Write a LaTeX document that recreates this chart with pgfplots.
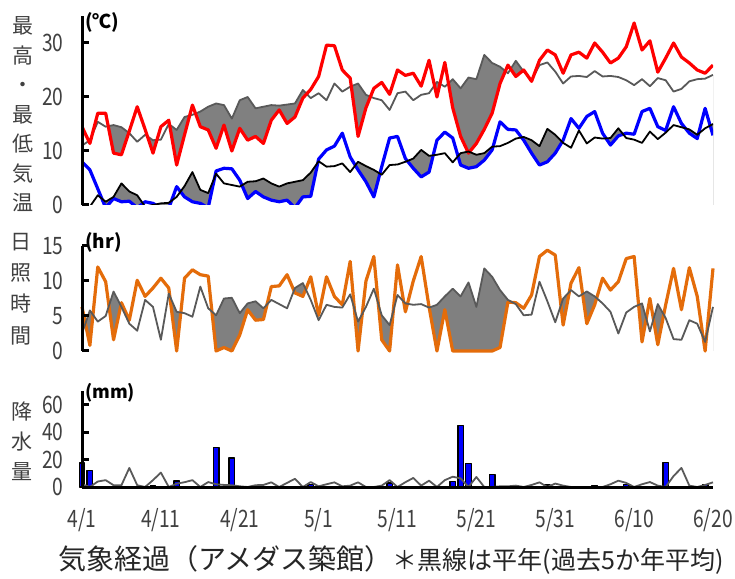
\documentclass[border=0pt]{standalone}
\usepackage{fontspec}
\setmainfont{Noto Sans CJK JP}
\newfontfamily\narrowfont[FakeStretch=0.8]{Noto Sans CJK JP}
\usepackage{pgfplots}
\pgfplotsset{compat=1.18}
\usepackage{pgfplotstable}

\definecolor{cRed}{RGB}{255,0,0}
\definecolor{cBlue}{RGB}{0,0,255}
\definecolor{cOrange}{RGB}{228,108,10}
\definecolor{cNorm}{RGB}{89,89,89}
\definecolor{cFill}{RGB}{128,128,128}
\definecolor{cText}{RGB}{64,64,64}

\pgfplotstableread{
d tmax nmax tmin nmin
0 14.5 11.0 8.0 0.3
1 11.4 12.0 6.5 -0.3
2 17.0 15.4 3.0 1.8
3 17.0 14.5 -0.5 0.6
4 9.6 14.8 1.2 1.5
5 9.3 14.4 0.6 4.0
6 13.7 13.3 0.7 2.5
7 18.2 11.7 -0.5 1.8
8 14.0 13.0 0.6 -0.3
9 9.6 12.0 0.3 0.0
10 14.5 12.1 -0.5 0.3
11 15.7 15.0 -0.6 0.4
12 7.4 13.9 3.4 1.5
13 13.0 16.3 1.5 3.5
14 18.5 16.7 0.6 6.1
15 14.5 17.3 0.3 2.8
16 13.9 18.2 -0.5 2.2
17 10.5 18.8 6.3 5.8
18 14.8 18.5 6.8 4.0
19 10.0 16.0 6.7 3.7
20 14.2 19.4 4.6 3.4
21 12.0 20.0 1.2 4.3
22 12.7 17.9 2.5 4.4
23 11.4 18.2 1.5 4.9
24 15.7 18.5 0.9 4.0
25 17.6 18.4 0.6 3.4
26 15.1 18.6 0.9 4.0
27 16.3 18.8 -0.5 4.3
28 19.8 21.3 1.5 4.6
29 21.4 19.8 1.6 6.0
30 23.8 20.7 8.5 8.1
31 29.6 19.4 10.2 7.1
32 29.5 22.5 10.9 7.2
33 25.0 21.0 13.3 7.7
34 23.5 21.9 8.9 6.1
35 12.7 22.5 6.5 8.0
36 18.0 20.4 4.3 7.2
37 21.6 19.8 1.5 6.5
38 22.7 19.4 7.1 5.6
39 20.5 17.6 12.4 7.4
40 25.0 20.7 12.7 7.5
41 24.0 21.0 8.6 8.0
42 24.4 19.4 6.8 8.6
43 22.0 20.4 5.2 10.2
44 26.8 20.7 6.1 9.1
45 20.0 22.8 12.0 9.3
46 26.4 21.9 13.5 9.6
47 18.0 23.3 12.4 7.9
48 12.7 21.6 7.4 9.6
49 9.6 23.6 6.8 9.9
50 11.4 23.3 7.1 9.3
51 14.0 27.8 8.3 9.6
52 17.0 26.3 10.2 10.8
53 22.5 25.6 15.4 10.9
54 25.9 24.4 14.0 11.5
55 23.8 26.7 13.9 12.3
56 25.0 24.7 12.0 12.6
57 22.9 23.1 9.6 12.0
58 26.8 25.9 7.4 10.9
59 28.7 26.4 8.0 14.1
60 27.8 24.7 9.6 13.0
61 24.4 22.5 12.0 11.5
62 27.8 23.8 16.0 10.6
63 28.3 23.9 14.2 13.8
64 27.2 23.7 16.4 11.4
65 30.0 24.8 17.3 12.5
66 28.3 23.8 13.3 12.3
67 26.3 23.9 11.1 12.4
68 27.2 23.7 12.8 14.2
69 29.3 23.1 13.3 12.4
70 33.7 22.2 13.1 12.1
71 28.7 23.3 17.3 11.5
72 30.4 22.0 17.9 13.6
73 24.6 23.5 14.5 12.2
74 27.2 23.1 13.8 13.4
75 30.0 21.0 18.2 14.8
76 27.4 21.5 15.1 14.4
77 26.3 22.9 13.3 14.0
78 25.0 23.3 12.3 13.0
79 24.4 23.4 17.9 14.2
80 25.9 24.1 12.9 15.0
}\temps

\pgfplotstableread{
d sun nsun
0 6.3 2.5
1 0.8 5.8
2 12.0 4.2
3 9.9 5.0
4 1.6 8.5
5 6.9 6.3
6 4.4 3.9
7 10.1 2.9
8 7.8 7.3
9 9.0 6.3
10 10.4 1.6
11 9.0 8.2
12 0.0 5.6
13 10.4 5.4
14 11.6 4.9
15 10.9 9.2
16 10.7 6.1
17 0.0 5.1
18 0.5 7.5
19 0.0 7.6
20 2.3 5.4
21 5.9 6.8
22 4.4 7.1
23 4.5 6.1
24 9.2 7.3
25 9.3 6.7
26 10.9 6.1
27 8.3 9.0
28 7.8 9.7
29 10.6 7.3
30 5.1 4.4
31 10.6 6.6
32 7.8 6.3
33 6.6 6.2
34 12.8 8.1
35 0.0 4.2
36 10.0 6.3
37 13.5 8.9
38 1.6 5.1
39 0.0 3.7
40 12.3 8.0
41 5.6 6.8
42 10.0 6.6
43 13.5 6.7
44 6.3 6.2
45 0.0 6.6
46 5.9 7.8
47 0.0 8.9
48 0.0 7.8
49 0.0 9.8
50 0.0 6.3
51 0.0 11.8
52 0.0 10.6
53 0.5 8.7
54 7.0 7.3
55 6.9 6.7
56 6.1 5.1
57 8.0 5.2
58 13.5 9.9
59 14.4 7.1
60 13.7 4.1
61 3.7 7.5
62 9.7 8.7
63 11.9 7.8
64 3.9 8.5
65 6.6 7.8
66 10.4 6.8
67 8.7 5.6
68 9.9 2.5
69 13.2 5.5
70 13.5 6.3
71 1.3 6.8
72 7.5 2.8
73 0.9 6.7
74 6.6 4.7
75 11.8 1.7
76 5.9 1.6
77 11.9 4.4
78 7.8 3.9
79 0.0 1.3
80 11.8 6.3
}\suns

\pgfplotstableread{
d rain
0 17.5
1 12
9 1
12 4.5
17 29
19 21
29 2
39 3
47 4
48 45
49 17
52 9
59 1.5
65 1
69 2
74 18
79 2
}\rains

\pgfplotstableread{
d nrain
0 2
1 0
2 4
3 5
4 1.3
5 1.3
6 13.9
7 1.3
8 0
9 5
10 10.5
11 0
12 2.4
13 3.5
14 5
15 0
16 3.6
17 2
18 1.5
19 1.3
20 0.5
21 0
22 1.3
23 1.5
24 3.4
25 0
26 3
27 6
28 0
29 3.6
30 0.5
31 2
32 3.4
33 0.5
34 1
35 3.4
36 0
37 0
38 1
39 5
40 0
41 3.5
42 6.6
43 1
44 4.6
45 0
46 5
47 7.5
48 6.3
49 0
50 7.3
51 0
52 0
53 0.5
54 0.5
55 1
56 0
57 1.5
58 3.4
59 0
60 2.5
61 1
62 0
63 0
64 0
65 0
66 0
67 2
68 4.6
69 3
70 0
71 2
72 3.6
73 1
74 0
75 8
76 13.9
77 1
78 0
79 1.5
80 3.4
}\nrains

\pgfplotsset{
  panel/.style={
    scale only axis, width=631pt, xmin=0, xmax=80,
    axis y line*=left,
    axis line style={line width=3pt, black, -},
    ytick style={line width=3pt, black},
    tick align=inside, major tick length=7pt,
    /pgf/number format/assume math mode=true,
    yticklabel style={font=\narrowfont\fontsize{24}{24}\selectfont, text=cText, anchor=east, xshift=-15pt},
    axis on top,
    every axis plot/.append style={line join=round},
  },
}

\begin{document}
\begin{tikzpicture}[x=1pt,y=1pt]
\path[use as bounding box] (0,0) rectangle (735,578);

% ---------- temperature ----------
\begin{axis}[panel, axis x line=none, xtick=\empty,
  at={(82pt,373pt)}, anchor=south west, height=189pt,
  ymin=0, ymax=35, ytick={0,10,20,30}]
  % shaded where observed is below normal (painter's order)
  \addplot[draw=none, fill=cFill] table[x=d, y=nmax] {\temps} \closedcycle;
  \addplot[draw=none, fill=white] table[x=d, y=tmax] {\temps} \closedcycle;
  \addplot[draw=none, fill=cFill] table[x=d, y=nmin] {\temps} \closedcycle;
  \addplot[draw=none, fill=white] table[x=d, y=tmin] {\temps} \closedcycle;
  \addplot[cNorm, line width=1.8pt] table[x=d, y=nmax] {\temps};
  \addplot[cRed, line width=3.2pt] table[x=d, y=tmax] {\temps};
  \addplot[cBlue, line width=3.2pt] table[x=d, y=tmin] {\temps};
  \addplot[black, line width=1.8pt] table[x=d, y=nmin] {\temps};
\end{axis}

% ---------- sunshine ----------
\begin{axis}[panel, axis x line=none, xtick=\empty,
  at={(82pt,227pt)}, anchor=south west, height=105pt,
  ymin=0, ymax=15, ytick={0,5,10,15}, clip=false]
  \addplot[draw=none, fill=cFill] table[x=d, y=nsun] {\suns} \closedcycle;
  \addplot[draw=none, fill=white] table[x=d, y=sun] {\suns} \closedcycle;
  \addplot[cOrange, line width=3.2pt] table[x=d, y=sun] {\suns};
  \addplot[cNorm, line width=1.8pt] table[x=d, y=nsun] {\suns};
\end{axis}

% ---------- precipitation ----------
\begin{axis}[panel, axis x line*=bottom,
  at={(82pt,91pt)}, anchor=south west, height=96pt,
  ymin=0, ymax=70, ytick={0,20,40,60}, clip=false,
  xtick={0,10,20,30,40,50,60,70,80},
  xticklabels={4/1,4/11,4/21,5/1,5/11,5/21,5/31,6/10,6/20},
  xtick style={draw=none},
  xticklabel style={font=\narrowfont\fontsize{24}{24}\selectfont, text=cText, anchor=center, yshift=-33pt}]
  \addplot[ybar, bar width=5.5pt, fill=cBlue, draw=black, line width=1.4pt] table[x=d, y=rain] {\rains};
  \addplot[cNorm, line width=1.8pt] table[x=d, y=nrain] {\nrains};
\end{axis}

% ---------- labels ----------
\node[font=\fontsize{21}{29.5}\selectfont, text=cText, align=center] at (23,463.5) {最\\高\\・\\最\\低\\気\\温};
\node[font=\fontsize{21}{31.3}\selectfont, text=cText, align=center] at (21,289) {日\\照\\時\\間};
\node[font=\fontsize{21}{30}\selectfont, text=cText, align=center] at (22,137) {降\\水\\量};

\node[font=\fontsize{19}{19}\selectfont\bfseries, anchor=west, inner sep=0pt] at (85,556) {(℃)};
\node[font=\fontsize{19}{19}\selectfont\bfseries, anchor=west, inner sep=0pt] at (85,336) {(hr)};
\node[font=\fontsize{18}{18}\selectfont\bfseries, anchor=west, inner sep=0pt] at (85,185) {(mm)};

\node[anchor=west, inner sep=0pt, text=black!85] at (58,18) {{\fontsize{28}{28}\selectfont 気象経過（アメダス築館）}{\fontsize{25}{25}\selectfont ＊黒線は平年(過去5か年平均)}};
\end{tikzpicture}
\end{document}
